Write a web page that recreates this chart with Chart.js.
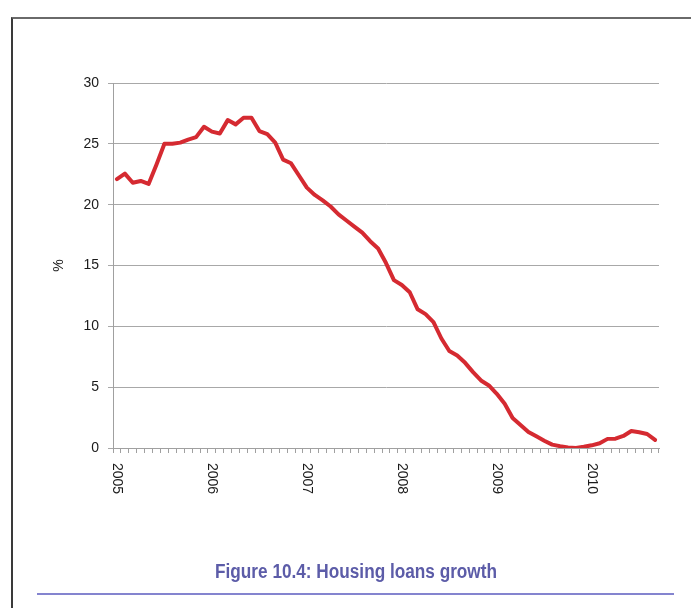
<!DOCTYPE html>
<html>
<head>
<meta charset="utf-8">
<script src="https://cdn.jsdelivr.net/npm/chart.js@4"></script>
<style>
  html, body { margin: 0; padding: 0; background: #ffffff; }
  body { width: 691px; height: 608px; position: relative; overflow: hidden; }
  #frame { position: absolute; left: 11px; top: 17px; width: 690px; height: 600px;
           border-top: 2px solid #6a6a6a; border-left: 2px solid #3a3a3a; }
  #wrap { position: absolute; left: 0; top: 0; width: 691px; height: 608px; }
  #title { position: absolute; left: 356px; top: 560px; white-space: nowrap;
           transform: translateX(-50%) scaleX(0.86); transform-origin: 50% 50%;
           font-family: "Liberation Sans Narrow", "Arial Narrow", "Liberation Sans", sans-serif;
           font-weight: bold; font-size: 20px; color: #5c5ca8; }
  #rule { position: absolute; left: 37px; width: 637px; top: 593px; height: 2px; background: #8484cf; }
</style>
</head>
<body>
<div id="frame"></div>
<div id="wrap"><canvas id="c" width="691" height="608"></canvas></div>
<div id="title">Figure 10.4: Housing loans growth</div>
<div id="rule"></div>
<script>
// ---- data ----
const years = ['2005', '2006', '2007', '2008', '2009', '2010'];
const monthNames = ['Jan','Feb','Mar','Apr','May','Jun','Jul','Aug','Sep','Oct','Nov','Dec'];
const monthsInLastYear = 9; // Jan–Sep 2010

const growth2005 = [22.1, 22.55, 21.8, 21.95, 21.7, 23.3, 25.0, 25.0, 25.1, 25.35, 25.55, 26.4];
const growth2006 = [26.0, 25.85, 26.95, 26.6, 27.15, 27.15, 26.05, 25.8, 25.1, 23.7, 23.4, 22.4];
const growth2007 = [21.4, 20.8, 20.35, 19.85, 19.2, 18.7, 18.2, 17.7, 17.0, 16.4, 15.2, 13.8];
const growth2008 = [13.4, 12.8, 11.4, 11.0, 10.35, 9.0, 7.97, 7.6, 7.0, 6.24, 5.55, 5.14];
const growth2009 = [4.45, 3.63, 2.47, 1.9, 1.32, 0.96, 0.6, 0.28, 0.15, 0.05, 0.0, 0.1];
const growth2010 = [0.22, 0.39, 0.75, 0.77, 0.99, 1.4, 1.3, 1.15, 0.66];

const yTicks = { min: 0, max: 30, step: 5 };
const yAxisTitle = '%';

// ---- build ----
const categories = [];
years.forEach((y, yi) => {
  const n = yi === years.length - 1 ? monthsInLastYear : 12;
  for (let m = 0; m < n; m++) categories.push(monthNames[m] + ' ' + y);
});
const values = [].concat(growth2005, growth2006, growth2007, growth2008, growth2009, growth2010);

const yearLabelPlugin = {
  id: 'yearLabels',
  afterDraw(chart) {
    const xs = chart.scales.x;
    const ctx = chart.ctx;
    ctx.save();
    ctx.fillStyle = '#1a1a1a';
    ctx.font = '14px "Liberation Sans", Arial, sans-serif';
    ctx.textAlign = 'left';
    ctx.textBaseline = 'middle';
    categories.forEach((c, i) => {
      if (c.startsWith('Jan ')) {
        const x = xs.getPixelForValue(i);
        ctx.save();
        ctx.translate(x, xs.top + 15);
        ctx.rotate(Math.PI / 2);
        ctx.fillText(c.slice(4), 0, 0);
        ctx.restore();
      }
    });
    ctx.restore();
  }
};

new Chart(document.getElementById('c'), {
  type: 'line',
  data: {
    labels: categories,
    datasets: [{
      data: values,
      borderColor: '#d52a31',
      borderWidth: 4,
      pointRadius: 0,
      tension: 0,
      borderJoinStyle: 'round',
      borderCapStyle: 'round',
      fill: false
    }]
  },
  options: {
    responsive: false,
    animation: false,
    devicePixelRatio: 1,
    layout: { padding: { left: 43, top: 83, right: 32, bottom: 100 } },
    plugins: { legend: { display: false }, tooltip: { enabled: false }, title: { display: false } },
    scales: {
      x: {
        type: 'category',
        offset: true,
        afterFit(s) { s.height = 60; },
        grid: { display: true, drawOnChartArea: false, drawTicks: true, tickLength: 5,
                offset: true, color: '#a0a0a0', lineWidth: 1 },
        border: { display: true, color: '#a0a0a0', width: 1 },
        ticks: { display: false, autoSkip: false }
      },
      y: {
        min: yTicks.min, max: yTicks.max,
        afterFit(s) { s.width = 70; },
        ticks: { stepSize: yTicks.step, padding: 9, color: '#1a1a1a',
                 font: { family: '"Liberation Sans", Arial, sans-serif', size: 14 } },
        grid: { color: '#a8a8a8', lineWidth: 1, drawTicks: true, tickLength: 5 },
        border: { display: true, color: '#a0a0a0', width: 1 },
        title: { display: true, text: yAxisTitle, color: '#1a1a1a', padding: { top: 8, bottom: 0 },
                 font: { family: '"Liberation Sans", Arial, sans-serif', size: 14 } }
      }
    }
  },
  plugins: [yearLabelPlugin]
});
</script>
</body>
</html>
